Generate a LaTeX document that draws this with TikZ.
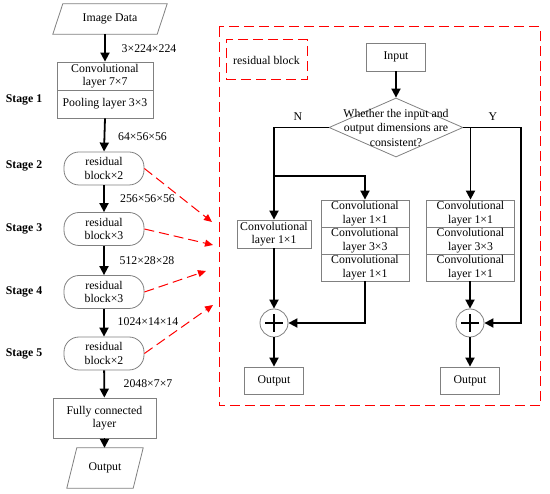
\documentclass[tikz,border=0pt]{standalone}
\usepackage{fontspec}
\setmainfont{Liberation Serif}
\usetikzlibrary{shapes.geometric,arrows.meta}

\begin{document}
\begin{tikzpicture}[
  x=1pt, y=-1pt,
  font=\fontsize{11.8}{13.5}\selectfont,
  box/.style={draw=gray, line width=0.8pt, align=center, inner sep=1pt},
  io/.style={align=center, inner sep=1pt},
  resblock/.style={box, rounded corners=15pt, minimum width=80pt, minimum height=33pt},
  layerbox/.style={box, minimum width=96pt, minimum height=28pt},
  cell/.style={box, minimum width=88pt, minimum height=27pt},
  flow/.style={-{Triangle[length=9pt,width=9pt]}, line width=1.8pt},
  link/.style={-{Triangle[length=8pt,width=7pt]}, red, line width=1pt, dash pattern=on 10pt off 5pt},
  stage/.style={font=\fontsize{11.8}{13.5}\selectfont\bfseries},
  dims/.style={font=\fontsize{11.8}{13.5}\selectfont},
  addop/.style={draw=gray, line width=0.8pt, circle, minimum size=28pt, inner sep=0pt},
  decision/.style={draw=gray, line width=0.8pt, diamond, minimum width=134pt, minimum height=59pt, inner sep=0pt},
  redframe/.style={draw=red, line width=1pt, dash pattern=on 10pt off 5pt}
]
\useasboundingbox (0,0) rectangle (550,494);

% backbone
\node[io, minimum width=104pt, minimum height=30pt] (img) at (110,19) {Image Data};
\node[layerbox] (conv7) at (105,76) {Convolutional\\layer 7×7};
\node[layerbox] (pool) at (105,104) {Pooling layer 3×3};
\node[resblock] (s2) at (104,168.5) {residual\\block×2};
\node[resblock] (s3) at (104,229) {residual\\block×3};
\node[resblock] (s4) at (104,292) {residual\\block×3};
\node[resblock] (s5) at (104,353.5) {residual\\block×2};
\node[box, minimum width=103pt, minimum height=40pt] (fc) at (104.5,418) {Fully connected\\layer};
\node[io, minimum width=66pt, minimum height=40pt] (out) at (105,468) {Output};
\foreach \n in {img,out}
  \draw[draw=gray, line width=0.8pt] ([xshift=-5pt]\n.south west) -- ([xshift=5pt]\n.north west)
    -- ([xshift=5pt]\n.north east) -- ([xshift=-5pt]\n.south east) -- cycle;

\foreach \name/\y/\txt in {st1/100/Stage 1, st2/166/Stage 2, st3/229/Stage 3, st4/292/Stage 4, st5/354/Stage 5}
  \node[stage] (\name) at (24,\y) {\txt};

\foreach \name/\x/\y/\txt in {d1/149/49/3×224×224, d2/142.5/137/64×56×56, d3/147.5/199/256×56×56,
  d4/147/261/512×28×28, d5/148/322/1024×14×14, d6/148/384/2048×7×7}
  \node[dims] (\name) at (\x,\y) {\txt};

\draw[flow] (conv7.north |- img.south) -- (conv7.north);
\draw[flow] (pool.south) -- (s2.north);
\draw[flow] (s2) -- (s3);
\draw[flow] (s3) -- (s4);
\draw[flow] (s4) -- (s5);
\draw[flow] (s5) -- (fc);
\draw[flow] (fc) -- (out.north -| fc.south);

% links into the block
\foreach \src/\x/\y in {s2/212/222, s3/213/245, s4/206/271, s5/213/305} {
  \coordinate (t\src) at (\x,\y);
  \draw[link] (\src.east) -- (t\src);
}

% residual block
\draw[redframe] (219,27) rectangle (540,406);
\node[redframe, text=black, minimum width=81pt, minimum height=40pt] (tag) at (266.5,60) {residual block};

\node[box, minimum width=59pt, minimum height=28pt] (in) at (396,57) {Input};
\node[decision] (check) at (396,127.5) {};
\node[align=center, font=\fontsize{11.8}{14.5}\selectfont] (q) at (check) {Whether the input and\\output dimensions are\\consistent?};
\node (n) at (298,117) {N};
\node (y) at (493,117) {Y};

\node[box, minimum width=74pt, minimum height=28pt] (c1) at (274,234) {Convolutional\\layer 1×1};
\foreach \col/\x in {m/365, r/470.5} {
  \node[cell] (\col1) at (\x,213.5) {Convolutional\\layer 1×1};
  \node[cell] (\col2) at (\x,240.5) {Convolutional\\layer 3×3};
  \node[cell] (\col3) at (\x,267.5) {Convolutional\\layer 1×1};
}
\node[addop] (addL) at (274,323) {};
\node[addop] (addR) at (470,323) {};
\foreach \n in {addL,addR}
  \draw[line width=1.5pt] ([xshift=-9pt]\n.center) -- ([xshift=9pt]\n.center)
    ([yshift=-9pt]\n.center) -- ([yshift=9pt]\n.center);
\node[box, minimum width=59pt, minimum height=27pt] (outL) at (274,380.5) {Output};
\node[box, minimum width=59pt, minimum height=27pt] (outR) at (470,380.5) {Output};

\coordinate (splitN) at (274,176);
\coordinate (bendY) at (521,127.5);
\draw[flow] (in) -- (check);
\draw[flow] (check.west) -| (c1.north);
\draw[flow] (splitN) -| (m1.north);
\draw[flow] (check.east) -- (bendY) |- (addR.east);
\draw[flow] (r1.north |- check.east) -- (r1.north);
\draw[flow] (c1) -- (addL);
\draw[flow] (m3.south) |- (addL.east);
\draw[flow] (r3.south -| addR) -- (addR);
\draw[flow] (addL) -- (outL);
\draw[flow] (addR) -- (outR);
\end{tikzpicture}
\end{document}
